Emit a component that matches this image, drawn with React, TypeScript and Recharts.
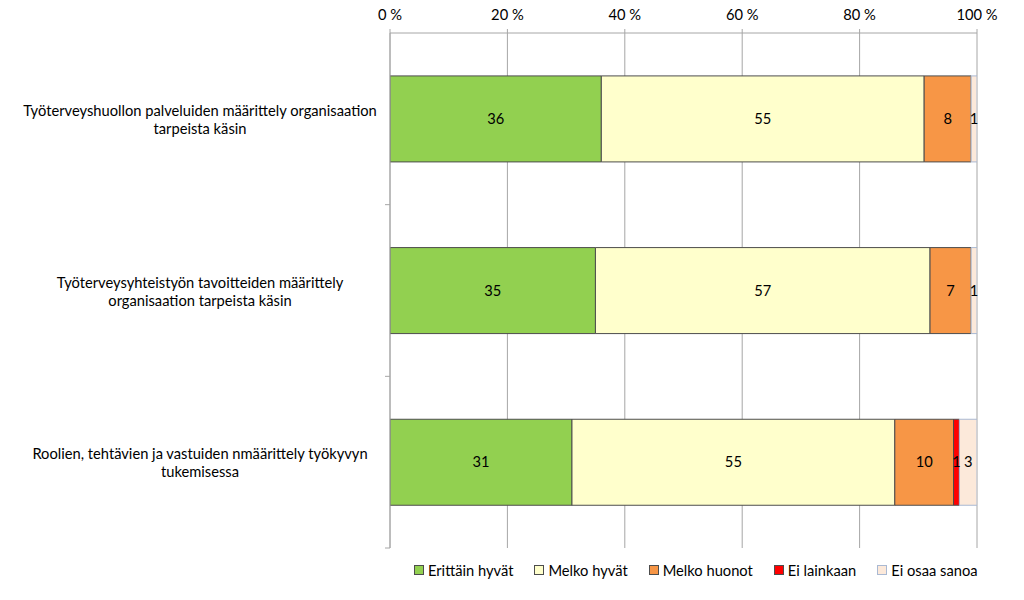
import React from 'react';
import { BarChart, Bar, XAxis, YAxis, CartesianGrid, LabelList } from 'recharts';

const categoryLines: string[][] = [
  ['Työterveyshuollon palveluiden määrittely organisaation', 'tarpeista käsin'],
  ['Työterveysyhteistyön tavoitteiden määrittely', 'organisaation tarpeista käsin'],
  ['Roolien, tehtävien ja vastuiden nmäärittely työkyvyn', 'tukemisessa'],
];
const seriesNames = ['Erittäin hyvät', 'Melko hyvät', 'Melko huonot', 'Ei lainkaan', 'Ei osaa sanoa'];
const erittainHyvat = [36, 35, 31];
const melkoHyvat = [55, 57, 55];
const melkoHuonot = [8, 7, 10];
const eiLainkaan = [0, 0, 1];
const eiOsaaSanoa = [1, 1, 3];
const xTicks = [0, 20, 40, 60, 80, 100];

const seriesValues = [erittainHyvat, melkoHyvat, melkoHuonot, eiLainkaan, eiOsaaSanoa];
const seriesKeys = ['s0', 's1', 's2', 's3', 's4'];
const fills = ['#92D050', '#FFFFCC', '#F79646', '#FF0000', '#FCE9DA'];
const strokes = ['#4D4D4D', '#4D4D4D', '#4D4D4D', '#4D4D4D', '#A9B9D3'];

const data = categoryLines.map((lines, i) => {
  const row: Record<string, any> = { name: lines.join(' '), lines };
  seriesKeys.forEach((k, j) => {
    row[k] = seriesValues[j][i];
  });
  return row;
});

const CHART_W = 1008;
const CHART_H = 556;
const MARGIN = { top: 18, right: 39, left: 0, bottom: 8 };
const X_AXIS_H = 15;
const Y_AXIS_W = 382;
const FONT = 'Lato, "Open Sans", sans-serif';
const FS = 14.7;
const bandSize = (CHART_H - MARGIN.top - MARGIN.bottom - X_AXIS_H) / categoryLines.length;

const CategoryTick = (props: any) => {
  const { y, payload } = props;
  const lines: string[] = data[payload.index]?.lines ?? [String(payload.value)];
  const axisX = MARGIN.left + Y_AXIS_W;
  const cx = axisX - 190;
  const lineH = 18;
  const startY = y - ((lines.length - 1) * lineH) / 2;
  return (
    <g>
      <line x1={axisX - 5} x2={axisX} y1={y + bandSize / 2} y2={y + bandSize / 2} stroke="#A6A6A6" />
      <text x={cx} y={startY} textAnchor="middle" fontSize={FS} fill="#000" fontFamily={FONT} dominantBaseline="central">
        {lines.map((l, i) => (
          <tspan key={i} x={cx} dy={i === 0 ? 0 : lineH}>
            {l}
          </tspan>
        ))}
      </text>
    </g>
  );
};

export default function App() {
  return (
    <div style={{ position: 'relative', width: CHART_W, height: 592, marginTop: -8, fontFamily: FONT }}>
      <BarChart
        width={CHART_W}
        height={CHART_H}
        data={data}
        layout="vertical"
        margin={MARGIN}
        barCategoryGap="25%"
      >
        <CartesianGrid horizontal={false} vertical={true} stroke="#A6A6A6" strokeWidth={1} />
        <XAxis
          type="number"
          orientation="top"
          domain={[0, 100]}
          ticks={xTicks}
          tickFormatter={(v: number) => `${v} %`}
          height={X_AXIS_H}
          tickSize={4}
          tickMargin={9}
          stroke="#A6A6A6"
          tick={{ fill: '#000', fontSize: FS, fontFamily: FONT }}
          interval={0}
          allowDataOverflow
        />
        <YAxis
          type="category"
          dataKey="name"
          width={Y_AXIS_W}
          tickLine={false}
          stroke="#A6A6A6"
          tick={<CategoryTick />}
          interval={0}
        />
        {seriesKeys.map((k, j) => (
          <Bar
            key={k}
            dataKey={k}
            name={seriesNames[j]}
            stackId="a"
            fill={fills[j]}
            stroke={strokes[j]}
            strokeWidth={1}
            isAnimationActive={false}
          >
            <LabelList
              dataKey={k}
              position="center"
              formatter={(v: any) => (v === 0 ? '' : v)}
              style={{ fill: '#000', fontSize: FS, fontFamily: FONT }}
            />
          </Bar>
        ))}
      </BarChart>
      <div
        style={{
          position: 'absolute',
          left: 406,
          top: 561,
          display: 'flex',
          gap: 21,
          alignItems: 'center',
          fontSize: FS,
          color: '#000',
          whiteSpace: 'nowrap',
        }}
      >
        {seriesNames.map((n, j) => (
          <div key={n} style={{ display: 'flex', alignItems: 'center' }}>
            <span
              style={{
                display: 'inline-block',
                width: 8,
                height: 8,
                background: fills[j],
                border: `1px solid ${j === 4 ? '#A9B9D3' : '#4D4D4D'}`,
                marginRight: 4,
              }}
            />
            <span>{n}</span>
          </div>
        ))}
      </div>
    </div>
  );
}
